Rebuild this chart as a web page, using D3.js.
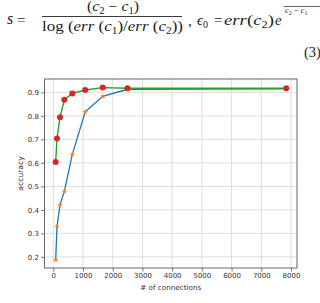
<!DOCTYPE html>
<html><head><meta charset="utf-8">
<script src="https://cdn.jsdelivr.net/npm/d3@7"></script>
<style>html,body{margin:0;padding:0;background:#fff;}svg{display:block;}
.serif text, .serif tspan{font-family:"Liberation Serif","DejaVu Serif",serif;}
.it{font-style:italic;}
</style>
</head><body>
<script>
// ---- data ----
const connections = [80, 125, 225, 370, 640, 1075, 1665, 2500, 7840];
const baseAccuracy = [0.187, 0.33, 0.42, 0.478, 0.636, 0.817, 0.883, 0.913, 0.915];
const tunedAccuracy = [0.604, 0.704, 0.794, 0.868, 0.895, 0.91, 0.92, 0.917, 0.917];
const xTickValues = [0, 1000, 2000, 3000, 4000, 5000, 6000, 7000, 8000];
const yTickValues = [0.2, 0.3, 0.4, 0.5, 0.6, 0.7, 0.8, 0.9];
const xLabel = "# of connections";
const yLabel = "accuracy";

const W = 320, H = 303;
const svg = d3.select("body").append("svg").attr("width", W).attr("height", H);

// ---- formula text (top) ----
const f = svg.append("g").attr("class", "serif").attr("fill", "#222");
function t(x, y, s, size, italic) {
  return f.append("text").attr("x", x).attr("y", y).attr("font-size", size)
    .attr("class", italic ? "it" : null).text(s);
}
function sub(parent, s, size, dy) {
  parent.append("tspan").attr("font-size", size).attr("dy", dy).text(s);
}
t(7, 24, "s", 16, true);
t(17, 25, "=", 15, false);
// numerator
const num = f.append("text").attr("x", 87).attr("y", 10.5).attr("font-size", 14)
  .attr("textLength", 52).attr("lengthAdjust", "spacingAndGlyphs");
num.append("tspan").text("(");
num.append("tspan").attr("class", "it").text("c");
sub(num, "2", 9.5, 3);
num.append("tspan").attr("dy", -3).text(" − ");
num.append("tspan").attr("class", "it").text("c");
sub(num, "1", 9.5, 3);
num.append("tspan").attr("dy", -3).text(")");
f.append("line").attr("x1", 42).attr("x2", 182).attr("y1", 16.5).attr("y2", 16.5)
  .attr("stroke", "#222").attr("stroke-width", 0.9);
// denominator
const den = f.append("text").attr("x", 42).attr("y", 31).attr("font-size", 15)
  .attr("textLength", 141).attr("lengthAdjust", "spacingAndGlyphs");
den.append("tspan").text("log (");
den.append("tspan").attr("class", "it").text("err");
den.append("tspan").text(" (");
den.append("tspan").attr("class", "it").text("c");
sub(den, "1", 10, 3);
den.append("tspan").attr("dy", -3).text(")/");
den.append("tspan").attr("class", "it").text("err");
den.append("tspan").text(" (");
den.append("tspan").attr("class", "it").text("c");
sub(den, "2", 10, 3);
den.append("tspan").attr("dy", -3).text("))");
// right part
t(188, 26, ",", 15, false);
const eps = f.append("text").attr("x", 197).attr("y", 25).attr("font-size", 15);
eps.append("tspan").attr("class", "it").text("ϵ");
sub(eps, "0", 10, 3);
t(214, 25, "=", 15, false);
const er = f.append("text").attr("x", 224).attr("y", 25).attr("font-size", 15)
  .attr("textLength", 50).attr("lengthAdjust", "spacingAndGlyphs");
er.append("tspan").attr("class", "it").text("err");
er.append("tspan").text("(");
er.append("tspan").attr("class", "it").text("c");
sub(er, "2", 10, 3);
er.append("tspan").attr("dy", -3).text(")");
t(275, 25, "e", 15, true);
f.append("line").attr("x1", 284).attr("x2", 320).attr("y1", 6.5).attr("y2", 6.5)
  .attr("stroke", "#222").attr("stroke-width", 0.7);
const ex = f.append("text").attr("x", 285).attr("y", 13).attr("font-size", 8.5);
ex.append("tspan").attr("class", "it").text("c");
sub(ex, "2", 6, 1.5);
ex.append("tspan").attr("dy", -1.5).text(" − ");
ex.append("tspan").attr("class", "it").text("c");
sub(ex, "1", 6, 1.5);
t(304, 57, "(3)", 14.5, false);

// ---- chart ----
const L = 44.5, R = 297, T = 79, B = 268;
const x = d3.scaleLinear().domain([-296, 8202]).range([L, R]);
const y = d3.scaleLinear().domain([0.1528, 0.9566]).range([B, T]);
const sans = "'DejaVu Sans',sans-serif";

const grid = svg.append("g").attr("stroke", "#d4d4d4").attr("stroke-width", 0.8);
grid.selectAll(".gx").data(xTickValues).join("line")
  .attr("x1", d => x(d)).attr("x2", d => x(d)).attr("y1", T).attr("y2", B);
grid.selectAll(".gy").data(yTickValues).join("line")
  .attr("x1", L).attr("x2", R).attr("y1", d => y(d)).attr("y2", d => y(d));

const xAxis = svg.append("g").attr("transform", `translate(0,${B})`)
  .call(d3.axisBottom(x).tickValues(xTickValues).tickFormat(d3.format("d")).tickSize(3.5).tickPadding(2).tickSizeOuter(0));
const yAxis = svg.append("g").attr("transform", `translate(${L},0)`)
  .call(d3.axisLeft(y).tickValues(yTickValues).tickFormat(d3.format(".1f")).tickSize(3.5).tickPadding(2).tickSizeOuter(0));
[xAxis, yAxis].forEach(a => {
  a.select(".domain").remove();
  a.selectAll("line").attr("stroke", "#555").attr("stroke-width", 0.8);
  a.selectAll("text").attr("font-family", sans).attr("font-size", 7).attr("fill", "#333");
});
svg.append("rect").attr("x", L).attr("y", T).attr("width", R - L).attr("height", B - T)
  .attr("fill", "none").attr("stroke", "#555").attr("stroke-width", 0.9);

svg.append("text").attr("x", (L + R) / 2).attr("y", 290).attr("text-anchor", "middle")
  .attr("font-family", sans).attr("font-size", 7.2).attr("fill", "#333").text(xLabel);
svg.append("text").attr("transform", `translate(23,${(T + B) / 2}) rotate(-90)`)
  .attr("text-anchor", "middle").attr("font-family", sans).attr("font-size", 7.6)
  .attr("fill", "#333").text(yLabel);

const line = d3.line().x(d => x(d[0])).y(d => y(d[1]));
const baseData = connections.map((c, i) => [c, baseAccuracy[i]]);
const tunedData = connections.map((c, i) => [c, tunedAccuracy[i]]);

svg.append("path").datum(baseData).attr("d", line).attr("fill", "none")
  .attr("stroke", "#1f77b4").attr("stroke-width", 1.3);
svg.selectAll(".om").data(baseData).join("path")
  .attr("transform", d => `translate(${x(d[0])},${y(d[1])})`)
  .attr("d", d3.symbol(d3.symbolStar, 10)).attr("fill", "#ff7f0e");
svg.append("path").datum(tunedData).attr("d", line).attr("fill", "none")
  .attr("stroke", "#2ca02c").attr("stroke-width", 1.4);
svg.selectAll(".rm").data(tunedData).join("circle")
  .attr("cx", d => x(d[0])).attr("cy", d => y(d[1])).attr("r", 3)
  .attr("fill", "#d62728");
</script>
</body></html>
